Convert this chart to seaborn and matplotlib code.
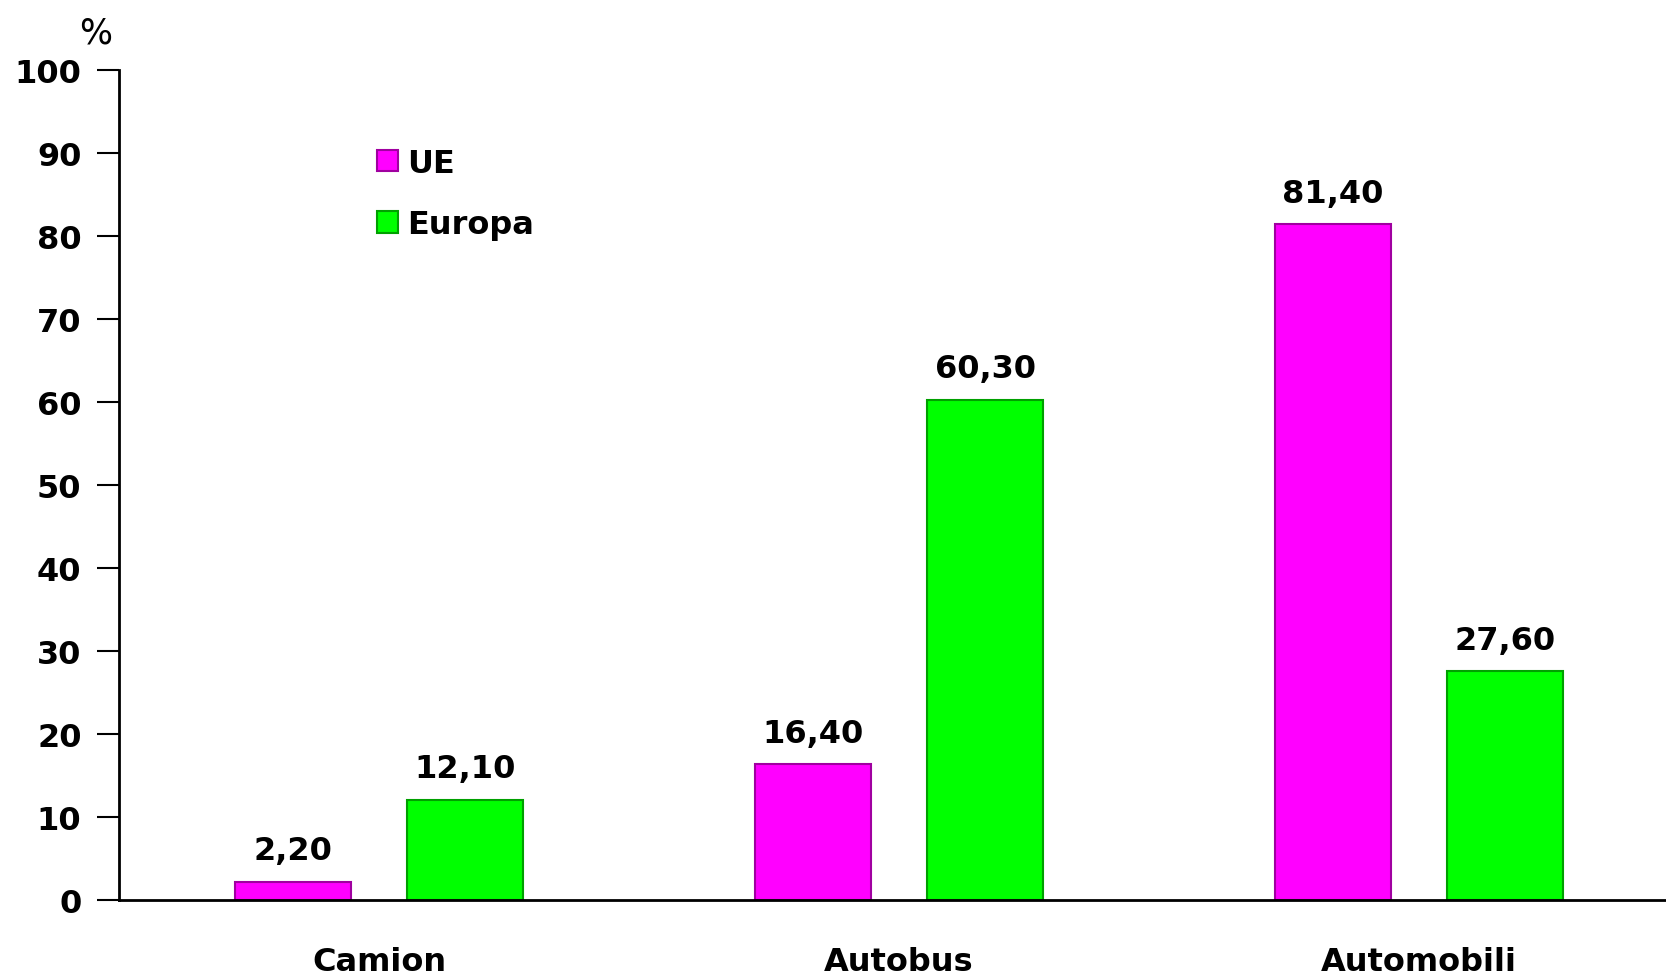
import matplotlib
matplotlib.use("Agg")
import matplotlib.pyplot as plt
import seaborn as sns
import pandas as pd

categories = ["Camion", "Autobus", "Automobili"]
series_names = ["UE", "Europa"]
ue_values = [2.2, 16.4, 81.4]
europa_values = [12.1, 60.3, 27.6]
y_ticks = [0, 10, 20, 30, 40, 50, 60, 70, 80, 90, 100]

fill_colors = {"UE": "#FF00FF", "Europa": "#00FF00"}
edge_colors = {"UE": "#A000A0", "Europa": "#00A000"}

df = pd.DataFrame({
    "categoria": categories * 2,
    "serie": [series_names[0]] * 3 + [series_names[1]] * 3,
    "valore": ue_values + europa_values,
})

sns.set_theme(style="white")
plt.rcParams["font.family"] = ["DejaVu Sans"]
plt.rcParams["font.weight"] = "bold"
plt.rcParams["text.color"] = "black"
plt.rcParams["xtick.color"] = "black"
plt.rcParams["ytick.color"] = "black"
FS = 23

fig = plt.figure(figsize=(16.66, 9.78), dpi=100)
ax = fig.add_axes([119 / 1666, 1 - 901 / 978, 1 - 119 / 1666, (901 - 71) / 978])

sns.barplot(data=df, x="categoria", y="valore", hue="serie", order=categories,
            hue_order=series_names, palette=fill_colors, width=0.664, gap=0.33,
            saturation=1, ax=ax, linewidth=1.5)

for container, name in zip(ax.containers, series_names):
    for p in container:
        p.set_edgecolor(edge_colors[name])
    vals = ue_values if name == "UE" else europa_values
    ax.bar_label(container, labels=[f"{v:.2f}".replace(".", ",") for v in vals],
                 padding=11, fontsize=FS, color="black", fontweight="bold")

ax.set_ylim(0, 100)
ax.set_xlim(-0.5, 2.475)
ax.set_yticks(y_ticks)
ax.set_yticklabels([str(t) for t in y_ticks], fontsize=FS, fontweight="bold", color="black")
ax.set_xticks(range(len(categories)))
ax.set_xticklabels(categories, fontsize=FS, fontweight="bold", color="black")
ax.set_xticks([-0.5, 0.5, 1.5], minor=True)
ax.tick_params(axis="x", which="major", length=0, pad=33)
ax.tick_params(axis="x", which="minor", length=12, width=1.5, color="black", direction="out")
ax.tick_params(axis="y", which="major", length=16, width=1.5, color="black", direction="out", pad=11, left=True)
ax.set_xlabel("")
ax.set_ylabel("")
for s in ["top", "right"]:
    ax.spines[s].set_visible(False)
for s in ["left", "bottom"]:
    ax.spines[s].set_color("black")
    ax.spines[s].set_linewidth(2)

fig.text(96 / 1666, 1 - 33 / 978, "%", fontsize=25, ha="center", va="center", fontweight="normal")

handles, labels = ax.get_legend_handles_labels()
for h, name in zip(handles, labels):
    h.set_edgecolor(edge_colors[name])
ax.legend(handles, labels, loc="upper left", bbox_to_anchor=(377 / 1666, 1 - 149 / 978),
          bbox_transform=fig.transFigure, frameon=False,
          prop={"size": FS, "weight": "bold"},
          handlelength=0.65, handleheight=0.65, handletextpad=0.3, labelspacing=0.95,
          borderpad=0, borderaxespad=0)

fig.savefig("out.png", dpi=100)
